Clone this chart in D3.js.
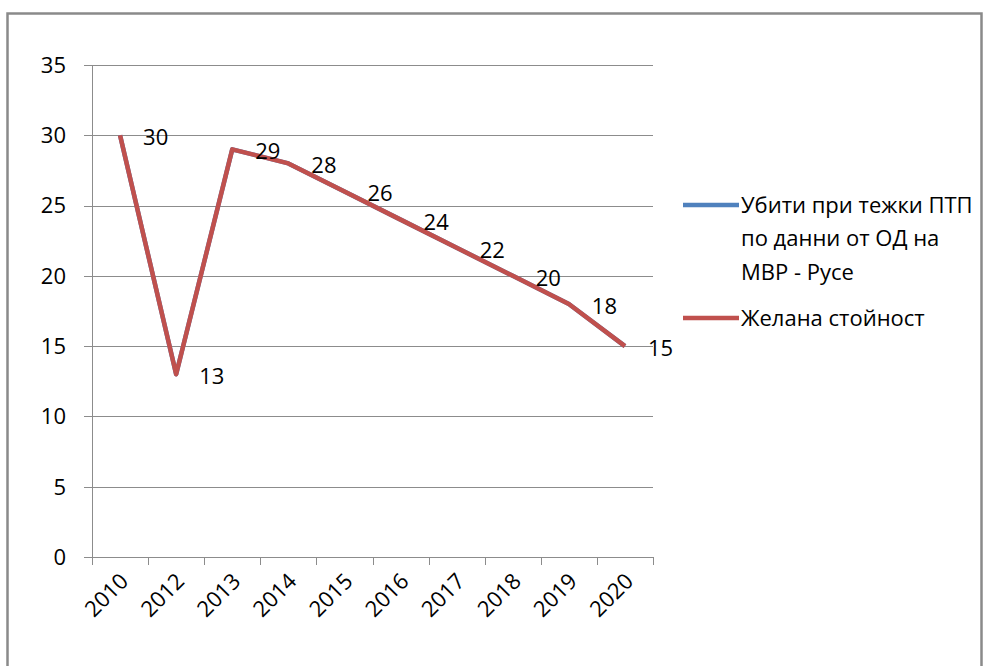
<!DOCTYPE html>
<html><head><meta charset="utf-8">
<script src="https://cdn.jsdelivr.net/npm/d3@7/dist/d3.min.js"></script>
<style>body{margin:0;background:#fff;}svg{display:block;}</style>
</head><body>
<svg id="c" width="984" height="666"></svg>
<script>
const categories = ["2010","2012","2013","2014","2015","2016","2017","2018","2019","2020"];
const killedValues = [30,13,29,28,26,24,22,20,18,15];
const desiredValues = [30,13,29,28,26,24,22,20,18,15];
const yTicks = [0,5,10,15,20,25,30,35];
const seriesNames = ["Убити при тежки ПТП по данни от ОД на МВР - Русе","Желана стойност"];
const legendLines = [["Убити при тежки ПТП","по данни от ОД на","МВР - Русе"],["Желана стойност"]];
const colors = ["#4F81BD","#C0504D"];

const font = "'Open Sans', sans-serif";
const fs = 22;
const svg = d3.select("#c");
svg.append("rect").attr("x",7.5).attr("y",13.5).attr("width",974).attr("height",700)
  .attr("fill","#fff").attr("stroke","#8a8a8a").attr("stroke-width",2.5);

const L=92,R=653,T=65,B=557;
const x = d3.scaleBand().domain(categories).range([L,R]);
const y = d3.scaleLinear().domain([0,35]).range([B,T]);

const g = svg.append("g");
g.selectAll(".grid").data(yTicks).join("line")
  .attr("x1",L-8).attr("x2",R).attr("y1",d=>Math.round(y(d))+0.5).attr("y2",d=>Math.round(y(d))+0.5)
  .attr("stroke","#8c8c8c").attr("stroke-width",1);
g.append("line").attr("x1",L+0.5).attr("x2",L+0.5).attr("y1",T).attr("y2",B).attr("stroke","#8c8c8c");
const bounds = categories.map(c=>x(c)).concat([R]);
g.selectAll(".xt").data(bounds).join("line")
  .attr("x1",d=>Math.round(d)+0.5).attr("x2",d=>Math.round(d)+0.5).attr("y1",B).attr("y2",B+8)
  .attr("stroke","#8c8c8c");
g.selectAll(".yl").data(yTicks).join("text")
  .attr("x",66).attr("y",d=>y(d)).attr("dy","0.36em").attr("text-anchor","end")
  .attr("font-family",font).attr("font-size",fs).attr("fill","#000").text(d=>d);
g.selectAll(".xl").data(categories).join("text")
  .attr("transform",d=>`translate(${x(d)+x.bandwidth()/2+4},${B+20}) rotate(-45)`)
  .attr("text-anchor","end").attr("dy","0.36em")
  .attr("font-family",font).attr("font-size",fs).attr("fill","#000").text(d=>d);

const line = d3.line().x((d,i)=>x(categories[i])+x.bandwidth()/2).y(d=>y(d));
[killedValues,desiredValues].forEach((vals,k)=>{
  g.append("path").attr("d",line(vals)).attr("fill","none").attr("stroke",colors[k])
    .attr("stroke-width",4.5).attr("stroke-linejoin","round");
});
g.selectAll(".dl").data(desiredValues).join("text")
  .attr("x",(d,i)=>x(categories[i])+x.bandwidth()/2+23).attr("y",d=>y(d)+2).attr("dy","0.36em")
  .attr("font-family",font).attr("font-size",fs).attr("fill","#000").text(d=>d);

const legY = [205,318];
legendLines.forEach((lines,k)=>{
  svg.append("line").attr("x1",683).attr("x2",739).attr("y1",legY[k]).attr("y2",legY[k])
    .attr("stroke",colors[k]).attr("stroke-width",4.5);
  lines.forEach((t,j)=>{
    svg.append("text").attr("x",741).attr("y",legY[k]+j*33.5).attr("dy","0.36em")
      .attr("font-family",font).attr("font-size",fs).attr("fill","#000").text(t);
  });
});
</script>
</body></html>
